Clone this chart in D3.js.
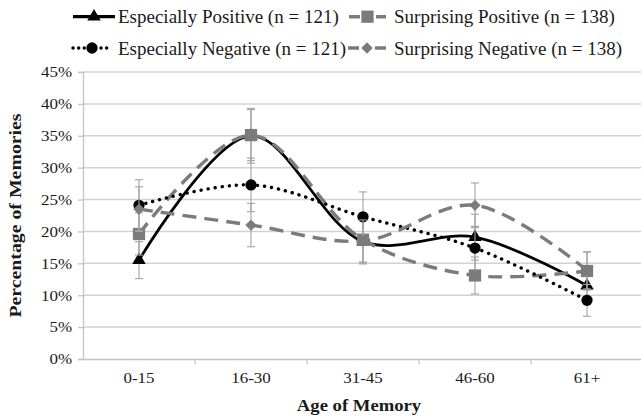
<!DOCTYPE html>
<html>
<head>
<meta charset="utf-8">
<script src="https://cdn.jsdelivr.net/npm/d3@7"></script>
<style>
  body { margin: 0; background: #fff; overflow: hidden; }
  text { font-family: "Liberation Serif", "Times New Roman", serif; fill: #1a1a1a; }
</style>
</head>
<body>
<div id="chart"></div>
<script>
// Chart data
var categories = ["0-15", "16-30", "31-45", "46-60", "61+"];
var yTicks = [0, 5, 10, 15, 20, 25, 30, 35, 40, 45];

var espPosValues = [15.5, 35.0, 18.4, 19.1, 11.5];
var espPosErrors = [2.9, 4.3, 3.5, 3.6, 2.9];
var surPosValues = [19.6, 35.1, 18.7, 13.1, 13.8];
var surPosErrors = [3.3, 4.0, 3.6, 2.9, 3.0];
var espNegValues = [24.1, 27.3, 22.3, 17.4, 9.2];
var espNegErrors = [4.0, 4.2, 3.9, 3.4, 2.5];
var surNegValues = [23.5, 21.0, 18.5, 24.1, 13.9];
var surNegErrors = [3.5, 3.4, 3.3, 3.5, 2.9];

var seriesNames = [
  "Especially Positive (n = 121)",
  "Surprising Positive (n = 138)",
  "Especially Negative (n = 121)",
  "Surprising Negative (n = 138)"
];

var GRAY = "#7b7b7b";
var diamond = {
  draw: function(ctx, size) {
    var r = Math.sqrt(size / 2);
    ctx.moveTo(0, -r); ctx.lineTo(r, 0); ctx.lineTo(0, r); ctx.lineTo(-r, 0); ctx.closePath();
  }
};

var series = [
  {name: seriesNames[0], values: espPosValues, errors: espPosErrors, color: "#000", style: "solid", symbol: d3.symbolTriangle, size: 78},
  {name: seriesNames[1], values: surPosValues, errors: surPosErrors, color: GRAY, style: "dash", symbol: d3.symbolSquare, size: 150},
  {name: seriesNames[2], values: espNegValues, errors: espNegErrors, color: "#000", style: "dot", symbol: d3.symbolCircle, size: 100},
  {name: seriesNames[3], values: surNegValues, errors: surNegErrors, color: GRAY, style: "dash", symbol: diamond, size: 64}
];

// horizontal stretch of the original's type
function stretch(sel, k) {
  sel.each(function() {
    var w = this.getComputedTextLength();
    d3.select(this).attr("textLength", w * k).attr("lengthAdjust", "spacingAndGlyphs");
  });
}

var width = 641, height = 419;
var margin = {top: 72, left: 83, right: -2, bottom: 60};
var innerW = width - margin.left - margin.right;
var innerH = height - margin.top - margin.bottom;

var svg = d3.select("#chart").append("svg")
  .attr("width", width)
  .attr("height", height);

var g = svg.append("g")
  .attr("transform", "translate(" + margin.left + "," + margin.top + ")");

var x = d3.scaleBand().domain(categories).range([0, innerW]);
var y = d3.scaleLinear().domain([0, 45]).range([innerH, 0]);
var cx = function(i) { return x(categories[i]) + x.bandwidth() / 2; };

// Gridlines
g.selectAll(".grid")
  .data(yTicks.slice(1))
  .enter().append("line")
  .attr("x1", 0).attr("x2", innerW)
  .attr("y1", function(d) { return y(d); })
  .attr("y2", function(d) { return y(d); })
  .attr("stroke", "#d2d2d2")
  .attr("stroke-width", 1.5);

// Y axis
var yAxis = g.append("g")
  .call(d3.axisLeft(y).tickValues(yTicks).tickFormat(function(d) { return d + "%"; }).tickSize(5).tickPadding(6));
yAxis.select(".domain").attr("stroke", "#c4c4c4").attr("stroke-width", 1.3);
yAxis.selectAll(".tick line").attr("stroke", "#c4c4c4").attr("stroke-width", 1.3);
yAxis.selectAll("text").style("font-size", "15px").attr("fill", "#1a1a1a").call(stretch, 1.13);

// X axis
var xAxis = g.append("g")
  .attr("transform", "translate(0," + innerH + ")")
  .call(d3.axisBottom(x).tickSize(0).tickPadding(13));
xAxis.select(".domain").attr("stroke", "#c4c4c4").attr("stroke-width", 1.3);
xAxis.selectAll("text").style("font-size", "15px").attr("fill", "#1a1a1a").call(stretch, 1.13);
xAxis.selectAll(".sep")
  .data(d3.range(1, categories.length + 1))
  .enter().append("line")
  .attr("x1", function(i) { return i * x.step(); })
  .attr("x2", function(i) { return i * x.step(); })
  .attr("y1", 0).attr("y2", 5)
  .attr("stroke", "#c4c4c4").attr("stroke-width", 1.3);

// Axis titles
svg.append("text")
  .attr("transform", "translate(21," + (margin.top + innerH / 2) + ") rotate(-90)")
  .attr("text-anchor", "middle")
  .style("font-size", "16.5px").style("font-weight", "bold")
  .text("Percentage of Memories")
  .call(stretch, 1.2);

svg.append("text")
  .attr("x", margin.left + innerW / 2 - 4)
  .attr("y", 411)
  .attr("text-anchor", "middle")
  .style("font-size", "16.5px").style("font-weight", "bold")
  .text("Age of Memory")
  .call(stretch, 1.13);

// Series: error bars, line, markers (in legend order)
var line = d3.line()
  .x(function(d, i) { return cx(i); })
  .y(function(d) { return y(d); })
  .curve(d3.curveCatmullRom.alpha(0.5));

function styleLine(sel, s) {
  if (s.style === "dot") {
    sel.attr("stroke-width", 3.4).attr("stroke-linecap", "round").attr("stroke-dasharray", "0.1,7");
  } else if (s.style === "dash") {
    sel.attr("stroke-width", 3.4).attr("stroke-dasharray", "14,8");
  } else {
    sel.attr("stroke-width", 2.8);
  }
}

series.forEach(function(s, k) {
  var sg = g.append("g");
  s.values.forEach(function(v, i) {
    var lo = y(v - s.errors[i]), hi = y(v + s.errors[i]);
    sg.append("line").attr("x1", cx(i)).attr("x2", cx(i)).attr("y1", lo).attr("y2", hi)
      .attr("stroke", "#a3a3a3").attr("stroke-width", 1.1);
    [lo, hi].forEach(function(yy) {
      sg.append("line").attr("x1", cx(i) - 4).attr("x2", cx(i) + 4).attr("y1", yy).attr("y2", yy)
        .attr("stroke", "#a3a3a3").attr("stroke-width", 1.1);
    });
  });
  sg.append("path")
    .datum(s.values)
    .attr("d", line)
    .attr("fill", "none")
    .attr("stroke", s.color)
    .call(styleLine, s);
  sg.selectAll(".marker")
    .data(s.values)
    .enter().append("path")
    .attr("class", "marker")
    .attr("d", d3.symbol().type(s.symbol).size(s.size))
    .attr("transform", function(d, i) { return "translate(" + cx(i) + "," + y(d) + ")"; })
    .attr("fill", s.color);
});

// Legend
var legendPos = [
  {x1: 73, x2: 115, y: 16.7, tx: 118},
  {x1: 349, x2: 386, y: 16.7, tx: 394},
  {x1: 73, x2: 111, y: 48, tx: 118},
  {x1: 348, x2: 386, y: 48, tx: 394}
];
series.forEach(function(s, k) {
  var p = legendPos[k];
  var lg = svg.append("g");
  var ln = lg.append("line")
    .attr("x1", p.x1).attr("x2", p.x2)
    .attr("y1", p.y).attr("y2", p.y)
    .attr("stroke", s.color);
  if (s.style === "dot") {
    ln.attr("stroke-width", 3.4).attr("stroke-linecap", "round").attr("stroke-dasharray", "0.1,5.5");
  } else if (s.style === "dash") {
    ln.attr("stroke-width", 3.4).attr("stroke-dasharray", "11,16");
  } else {
    ln.attr("stroke-width", 3.2);
  }
  lg.append("path")
    .attr("d", d3.symbol().type(s.symbol).size(s.size))
    .attr("transform", "translate(" + ((p.x1 + p.x2) / 2) + "," + p.y + ")")
    .attr("fill", s.color);
  lg.append("text")
    .attr("x", p.tx).attr("y", p.y + 6.5)
    .style("font-size", "19px")
    .text(s.name)
    .call(stretch, 1.0);
});
</script>
</body>
</html>
